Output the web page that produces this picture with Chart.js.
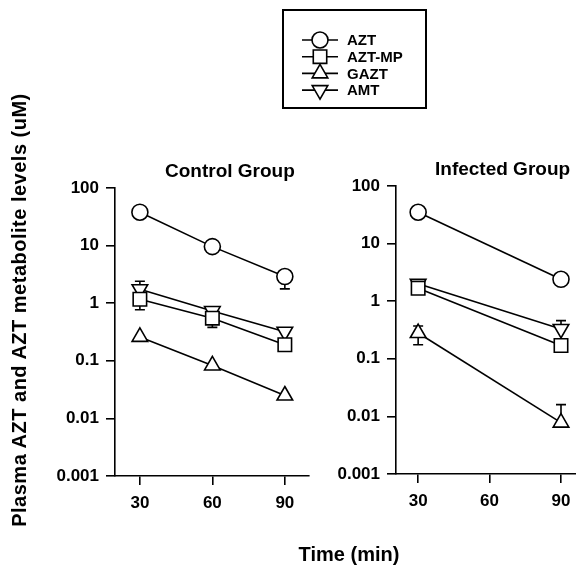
<!DOCTYPE html>
<html lang="en">
<head>
  <meta charset="UTF-8" />
  <title>Plasma AZT and AZT metabolite levels</title>
  <script src="https://cdn.jsdelivr.net/npm/chart.js"></script>
  <style>
    * { box-sizing: border-box; }
    body {
      margin: 0;
      background: #fff;
      font-family: 'Liberation Sans', Arial, sans-serif;
      color: #000;
    }
    #wrap { position: relative; width: 576px; height: 566px; overflow: hidden; }
    canvas { position: absolute; top: 0; }
    #left { left: 0; }
    #right { left: 312px; }
    .lbl { position: absolute; font-weight: bold; white-space: nowrap; }
    #ttlControl { left: 165px; top: 160px; font-size: 19px; line-height: 22px; }
    #ttlInfected { left: 435px; top: 158px; font-size: 19px; line-height: 22px; }
    #xTitle { left: 249px; width: 200px; text-align: center; top: 542px; font-size: 20px; line-height: 24px; }
    #yTitle {
      left: -231px; top: 298px; width: 500px; height: 24px;
      text-align: center; font-size: 20px; line-height: 24px; letter-spacing: 0.5px;
      transform: rotate(-90deg);
    }
  </style>
</head>
<body>
  <div id="wrap">
    <canvas id="left" width="576" height="566"></canvas>
    <canvas id="right" width="300" height="566"></canvas>
    <div class="lbl" id="ttlControl">Control Group</div>
    <div class="lbl" id="ttlInfected">Infected Group</div>
    <div class="lbl" id="xTitle">Time (min)</div>
    <div class="lbl" id="yTitle">Plasma AZT and AZT metabolite levels (uM)</div>
  </div>

  <script>
    const seriesNames = ['AZT', 'AZT-MP', 'GAZT', 'AMT'];
    const xTicks = [30, 60, 90];
    const yTicks = [0.001, 0.01, 0.1, 1, 10, 100];
    const yTickLabels = ['0.001', '0.01', '0.1', '1', '10', '100'];

    // Control group
    const controlTimes = [30, 60, 90];
    const controlAZT = [38, 9.6, 2.9];
    const controlAZTMP = [1.17, 0.55, 0.19];
    const controlGAZT = [0.26, 0.083, 0.025];
    const controlAMT = [1.75, 0.73, 0.32];
    // error bar ends (null = hidden behind the marker)
    const controlAZTLow = [null, null, 1.77];
    const controlAZTMPLow = [0.77, 0.38, null];
    const controlAMTHigh = [2.4, null, null];

    // Infected group
    const infectedTimes = [30, 90];
    const infectedAZT = [35, 2.4];
    const infectedAZTMP = [1.68, 0.17];
    const infectedGAZT = [0.28, 0.0078];
    const infectedAMT = [2.0, 0.33];
    const infectedGAZTLow = [0.175, null];
    const infectedGAZTHigh = [0.37, 0.016];
    const infectedAMTHigh = [null, 0.46];

    const markers = [
      { style: 'circle', r: 8, rot: 0 },
      { style: 'rect', r: 9.5, rot: 0 },
      { style: 'triangle', r: 9, rot: 0 },
      { style: 'triangle', r: 9, rot: 180 }
    ];

    function makeSets(times, values, lows, highs) {
      return seriesNames.map((name, k) => ({
        label: name,
        data: times.map((t, i) => ({ x: t, y: values[k][i] })),
        errLow: lows[k],
        errHigh: highs[k],
        borderColor: '#000',
        borderWidth: 1.6,
        backgroundColor: '#fff',
        pointStyle: markers[k].style,
        pointRadius: markers[k].r,
        pointHoverRadius: markers[k].r,
        pointRotation: markers[k].rot,
        pointBackgroundColor: '#fff',
        pointBorderColor: '#000',
        pointBorderWidth: 1.6,
        tension: 0,
        clip: false
      }));
    }

    // error bars, drawn under the markers
    const errorBars = {
      id: 'errorBars',
      beforeDatasetsDraw(chart) {
        const ctx = chart.ctx, xs = chart.scales.x, ys = chart.scales.y;
        ctx.save();
        ctx.strokeStyle = '#000';
        ctx.lineWidth = 1.6;
        chart.data.datasets.forEach(ds => {
          ds.data.forEach((p, i) => {
            [ds.errLow ? ds.errLow[i] : null, ds.errHigh ? ds.errHigh[i] : null].forEach(e => {
              if (e == null) return;
              const px = xs.getPixelForValue(p.x);
              const py = ys.getPixelForValue(p.y);
              const pe = ys.getPixelForValue(e);
              ctx.beginPath();
              ctx.moveTo(px, py);
              ctx.lineTo(px, pe);
              ctx.moveTo(px - 5, pe);
              ctx.lineTo(px + 5, pe);
              ctx.stroke();
            });
          });
        });
        ctx.restore();
      }
    };

    // boxed legend at the top
    const legendBox = {
      id: 'legendBox',
      afterDraw(chart) {
        const ctx = chart.ctx;
        ctx.save();
        ctx.strokeStyle = '#000';
        ctx.lineWidth = 2;
        ctx.strokeRect(283, 10, 143, 98);
        chart.data.datasets.forEach((ds, k) => {
          const y = 40 + k * 16.7;
          ctx.lineWidth = 1.6;
          ctx.beginPath();
          ctx.moveTo(302, y);
          ctx.lineTo(338, y);
          ctx.stroke();
          ctx.fillStyle = '#fff';
          Chart.helpers.drawPoint(ctx, {
            pointStyle: ds.pointStyle,
            radius: ds.pointRadius,
            rotation: ds.pointRotation,
            borderWidth: 1.6
          }, 320, y);
          ctx.fillStyle = '#000';
          ctx.font = 'bold 15px "Liberation Sans", Arial, sans-serif';
          ctx.textBaseline = 'middle';
          ctx.textAlign = 'left';
          ctx.fillText(ds.label, 347, y + 1);
        });
        ctx.restore();
      }
    };

    function scalesFor(xMin, xMax, yWidth) {
      return {
        x: {
          type: 'linear',
          min: xMin,
          max: xMax,
          afterBuildTicks: s => { s.ticks = xTicks.map(v => ({ value: v })); },
          afterFit: s => { s.height = 40; },
          grid: { drawOnChartArea: false, drawTicks: true, tickLength: 9, color: '#000', lineWidth: 1.6 },
          border: { display: true, color: '#000', width: 1.6 },
          ticks: { color: '#000', font: { size: 17, weight: 'bold' }, padding: 8, maxRotation: 0, autoSkip: false }
        },
        y: {
          type: 'logarithmic',
          min: 0.001,
          max: 100,
          afterBuildTicks: s => { s.ticks = yTicks.map(v => ({ value: v })); },
          afterFit: s => { s.width = yWidth; },
          grid: { drawOnChartArea: false, drawTicks: true, tickLength: 9, color: '#000', lineWidth: 1.6 },
          border: { display: true, color: '#000', width: 1.6 },
          ticks: {
            color: '#000',
            font: { size: 17, weight: 'bold' },
            padding: 7,
            autoSkip: false,
            callback: v => { const i = yTicks.indexOf(v); return i >= 0 ? yTickLabels[i] : ''; }
          }
        }
      };
    }

    Chart.defaults.font.family = "'Liberation Sans', Arial, sans-serif";
    Chart.defaults.color = '#000';

    const common = {
      responsive: false,
      animation: false,
      plugins: { legend: { display: false }, tooltip: { enabled: false } }
    };

    new Chart(document.getElementById('left'), {
      type: 'line',
      data: {
        datasets: makeSets(
          controlTimes,
          [controlAZT, controlAZTMP, controlGAZT, controlAMT],
          [controlAZTLow, controlAZTMPLow, null, null],
          [null, null, null, controlAMTHigh]
        )
      },
      options: Object.assign({}, common, {
        layout: { padding: { left: 40, right: 267, top: 188, bottom: 50 } },
        scales: scalesFor(19.7, 100, 75)
      }),
      plugins: [errorBars, legendBox]
    });

    // right canvas runs past the window edge, like the cut-off axis in the original
    new Chart(document.getElementById('right'), {
      type: 'line',
      data: {
        datasets: makeSets(
          infectedTimes,
          [infectedAZT, infectedAZTMP, infectedGAZT, infectedAMT],
          [null, null, infectedGAZTLow, null],
          [null, null, infectedGAZTHigh, infectedAMTHigh]
        )
      },
      options: Object.assign({}, common, {
        layout: { padding: { left: 0, right: 36, top: 186, bottom: 52 } },
        scales: scalesFor(20.7, 96.3, 84)
      }),
      plugins: [errorBars]
    });
  </script>
</body>
</html>
